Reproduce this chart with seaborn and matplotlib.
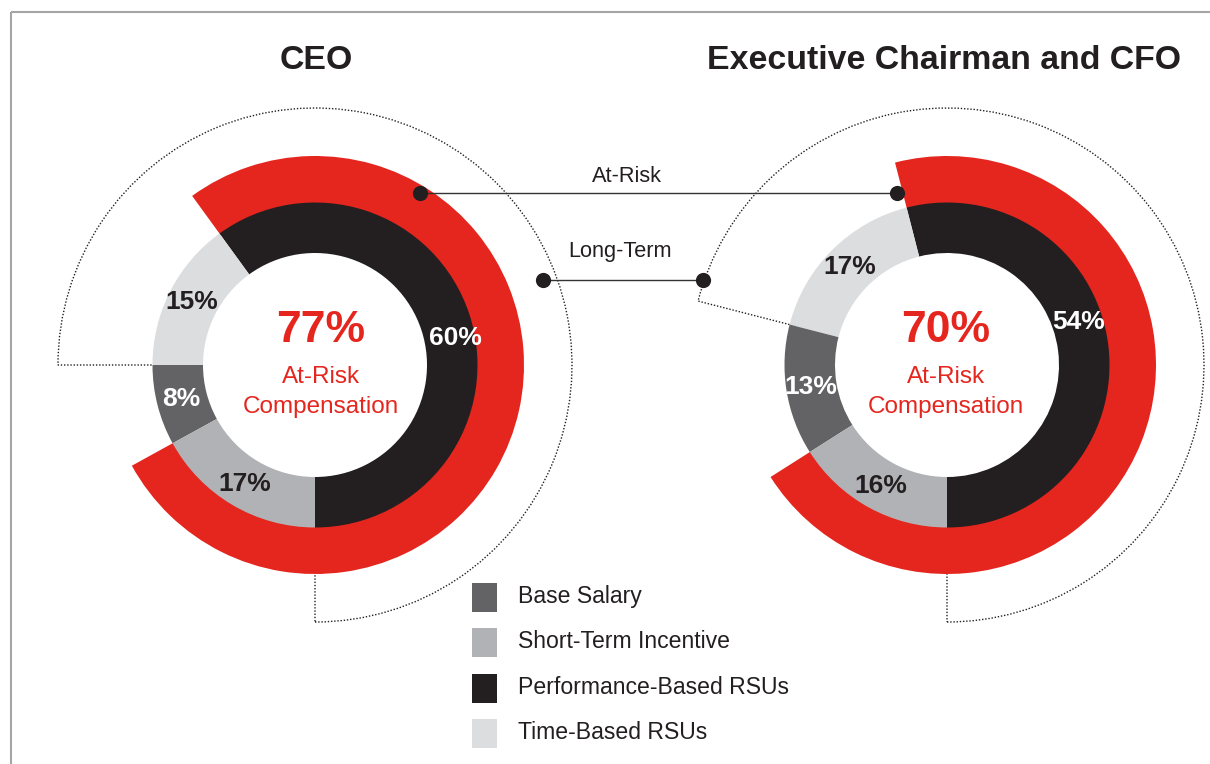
import matplotlib
matplotlib.use("Agg")
import matplotlib.pyplot as plt
from matplotlib.patches import Rectangle
import numpy as np
import pandas as pd
import seaborn as sns

# ------------------------------------------------------
# DATA (percent of target pay)
# ------------------------------------------------------
executives   = ["CEO", "Executive Chairman and CFO"]
components   = ["Base Salary", "Short-Term Incentive",
                "Performance-Based RSUs", "Time-Based RSUs"]
base_salary  = [8, 13]
short_term   = [17, 16]
perf_rsus    = [60, 54]
time_rsus    = [15, 17]
at_risk      = [77, 70]
long_term    = [75, 71]
center_label = ["At-Risk", "Compensation"]
link_labels  = ["At-Risk", "Long-Term"]

# ------------------------------------------------------
# STYLE / LAYOUT (pixel space of the 1210x764 canvas)
# ------------------------------------------------------
W, H = 1210, 764
RED  = "#E5261E"
INK  = "#231F20"
COLORS = {
    "Base Salary":            "#636366",
    "Short-Term Incentive":   "#B1B2B5",
    "Performance-Based RSUs": "#231F20",
    "Time-Based RSUs":        "#DCDDDF",
}
TEXT_ON = {
    "Base Salary": "white", "Short-Term Incentive": INK,
    "Performance-Based RSUs": "white", "Time-Based RSUs": INK,
}

R_HOLE, R_OUT, R_RED, R_DOT = 112, 162.5, 209, 257
R_LABEL = 138
centers    = [(315, 365), (947, 365)]
text_x     = [321, 946]
title_x    = [316, 944]
perf_nudge = [-7, 11]     # degrees, label shift for the big segment


def py(y):
    """Picture y (top-down) -> axes y (bottom-up)."""
    return H - y


sns.set_theme(style="white")
plt.rcParams["font.family"] = ["Liberation Sans", "DejaVu Sans"]

fig = plt.figure(figsize=(W / 100, H / 100), dpi=100)
ax = fig.add_axes([0, 0, 1, 1])


def draw_exec(i):
    cx, cy = centers[i]
    c = (cx, py(cy))

    # long-term: dotted outline wedge
    lt = long_term[i]
    w, _ = ax.pie([lt, 100 - lt], startangle=270, radius=R_DOT, center=c,
                  frame=True, colors=["none", "none"],
                  wedgeprops=dict(width=R_DOT - 155, fill=False,
                                  edgecolor=INK, linewidth=1.0,
                                  linestyle=(0, (1, 1.3))))
    w[1].set_visible(False)

    # at-risk: red ring covering STI + performance RSUs
    start = 270 - short_term[i] * 3.6
    w, _ = ax.pie([at_risk[i], 100 - at_risk[i]], startangle=start,
                  radius=R_RED, center=c, frame=True,
                  colors=[RED, "none"],
                  wedgeprops=dict(width=R_RED - 160, linewidth=0))
    w[1].set_visible(False)

    # pay mix donut, counter-clockwise from 6 o'clock
    names = ["Performance-Based RSUs", "Time-Based RSUs",
             "Base Salary", "Short-Term Incentive"]
    vals = [perf_rsus[i], time_rsus[i], base_salary[i], short_term[i]]
    ax.pie(vals, startangle=270, radius=R_OUT, center=c, frame=True,
           colors=[COLORS[n] for n in names],
           wedgeprops=dict(width=R_OUT - R_HOLE, linewidth=0))

    vals_a = np.array(vals, dtype=float)
    angles = 270 + 3.6 * (np.cumsum(vals_a) - vals_a / 2)
    angles[0] += perf_nudge[i]
    for v, n, a in zip(vals, names, np.deg2rad(angles)):
        r = R_LABEL + (5 if n == "Performance-Based RSUs" and i == 0 else 0)
        ax.text(c[0] + r * np.cos(a), c[1] + r * np.sin(a),
                f"{v}%", ha="center", va="center", fontsize=19,
                fontweight="bold", color=TEXT_ON[n])

    # centre text
    tx = text_x[i]
    ax.text(tx, py(342), f"{at_risk[i]}%", ha="center", va="baseline",
            fontsize=32, fontweight="bold", color=RED)
    ax.text(tx, py(383), center_label[0], ha="center", va="baseline",
            fontsize=17.5, color=RED)
    ax.text(tx, py(413), center_label[1], ha="center", va="baseline",
            fontsize=17.5, color=RED)

    ax.text(title_x[i], py(69), executives[i], ha="center", va="baseline",
            fontsize=24.4, fontweight="bold", color=INK)


for i in range(len(executives)):
    draw_exec(i)

# connectors between the two charts
links = pd.DataFrame({
    "x": [420, 897, 543, 703],
    "y": [py(193), py(193), py(280), py(280)],
    "link": [link_labels[0], link_labels[0], link_labels[1], link_labels[1]],
})
for name, grp in links.groupby("link"):
    ax.plot(grp["x"], grp["y"], color="#333333", lw=1.0, zorder=4)
sns.scatterplot(data=links, x="x", y="y", color=INK, s=120, linewidth=0,
                legend=False, ax=ax, zorder=5)
ax.text(627, py(182), link_labels[0], ha="center", va="baseline",
        fontsize=15.7, color=INK)
ax.text(620, py(257), link_labels[1], ha="center", va="baseline",
        fontsize=15.7, color=INK)

# legend
for k, comp in enumerate(components):
    top = 583 + k * 45.3
    ax.add_patch(Rectangle((472, py(top + 29)), 25, 29,
                           facecolor=COLORS[comp], edgecolor="none"))
    ax.text(518, py(top + 20), comp, ha="left", va="baseline",
            fontsize=16.6, color=INK)

# frame (top and left edges visible)
ax.plot([11, W], [py(11.5), py(11.5)], color="#A5A5A8", lw=1.5,
        solid_capstyle="butt")
ax.plot([11, 11], [py(11.5), 0], color="#A5A5A8", lw=1.5,
        solid_capstyle="butt")

ax.set_xlim(0, W)
ax.set_ylim(0, H)
ax.set_aspect("equal")
ax.axis("off")

fig.savefig("out.png", dpi=100)
